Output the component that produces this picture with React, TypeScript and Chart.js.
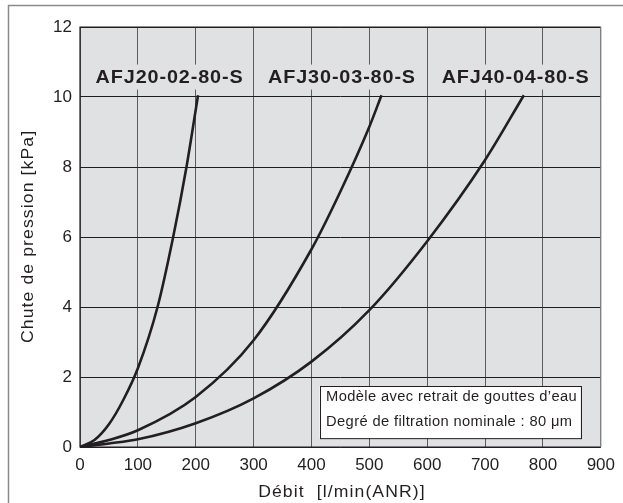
import { useEffect, useRef } from "react";
import { Chart, registerables } from "chart.js";

Chart.register(...registerables);

// ---- data ----
const flowAFJ20 = [0, 25, 50, 75, 100, 134, 161, 184, 204];
const dropAFJ20 = [0, 0.2, 0.65, 1.35, 2.25, 4.0, 6.0, 8.0, 10.05];
const flowAFJ30 = [0, 50, 100, 200, 300, 400, 450, 500, 521];
const dropAFJ30 = [0, 0.2, 0.48, 1.43, 3.05, 5.65, 7.3, 9.15, 10.05];
const flowAFJ40 = [0, 50, 100, 200, 300, 400, 500, 600, 700, 767];
const dropAFJ40 = [0, 0.1, 0.22, 0.68, 1.39, 2.44, 3.91, 5.88, 8.2, 10.05];

const seriesNames = ["AFJ20-02-80-S", "AFJ30-03-80-S", "AFJ40-04-80-S"];
const labelFlows = [154, 452, 752];
const labelDrop = 10.57;

const xMin = 0, xMax = 900, xStep = 100;
const yMin = 0, yMax = 12, yStep = 2;

const xTitle = "Débit  [l/min(ANR)]";
const yTitle = "Chute de pression [kPa]";
const noteLines = [
  "Modèle avec retrait de gouttes d’eau",
  "Degré de filtration nominale : 80 μm",
];

const FONT = "'Liberation Sans', Arial, Helvetica, sans-serif";
const INK = "#231f20";
const PLOT_BG = "#e0e1e3";

function toPoints(xs: number[], ys: number[]) {
  return xs.map((x, i) => ({ x, y: ys[i] }));
}

// draws text widened horizontally to mimic the reference's wide type
function wideText(
  ctx: CanvasRenderingContext2D,
  text: string,
  x: number,
  y: number,
  sx: number,
  spacing: number,
  align: "left" | "center"
) {
  ctx.save();
  (ctx as any).letterSpacing = `${spacing}px`;
  ctx.textAlign = "left";
  ctx.textBaseline = "middle";
  const w = (ctx.measureText(text).width - spacing) * sx;
  const startX = align === "center" ? x - w / 2 : x;
  ctx.translate(startX, y);
  ctx.scale(sx, 1);
  ctx.fillText(text, 0, 0);
  ctx.restore();
  return w;
}

const decorPlugin = {
  id: "decor",
  beforeDraw(chart: any) {
    const { ctx, chartArea } = chart;
    const { left, top, right, bottom } = chartArea;
    ctx.save();
    ctx.fillStyle = "#ffffff";
    ctx.fillRect(0, 0, chart.width, chart.height);
    ctx.strokeStyle = "#8a8a8a";
    ctx.lineWidth = 1.5;
    ctx.strokeRect(8.5, 5.5, chart.width + 20, chart.height + 20);
    ctx.fillStyle = PLOT_BG;
    ctx.fillRect(left, top, right - left, bottom - top);
    ctx.restore();
  },
  beforeDatasetsDraw(chart: any) {
    const { ctx, scales } = chart;
    ctx.save();
    ctx.font = `bold 18px ${FONT}`;
    seriesNames.forEach((name, i) => {
      const cx = scales.x.getPixelForValue(labelFlows[i]);
      const cy = scales.y.getPixelForValue(labelDrop);
      (ctx as any).letterSpacing = "0.8px";
      const w = (ctx.measureText(name).width - 0.8) * 1.1 + 6;
      ctx.fillStyle = PLOT_BG;
      ctx.fillRect(cx - w / 2, cy - 12.5, w, 25);
      ctx.fillStyle = INK;
      wideText(ctx, name, cx, cy + 1, 1.1, 0.8, "center");
    });
    ctx.restore();
  },
  afterDatasetsDraw(chart: any) {
    const { ctx, chartArea, scales } = chart;
    const { left, top, right, bottom } = chartArea;
    ctx.save();
    ctx.lineWidth = 1.2;
    ctx.strokeStyle = INK;
    ctx.beginPath();
    ctx.moveTo(right, top);
    ctx.lineTo(left, top);
    ctx.lineTo(left, bottom);
    ctx.lineTo(right, bottom);
    ctx.stroke();
    ctx.strokeStyle = "#8a8a8a";
    ctx.beginPath();
    ctx.moveTo(right, top);
    ctx.lineTo(right, bottom);
    ctx.stroke();

    // note box
    const bx0 = scales.x.getPixelForValue(414);
    const bx1 = scales.x.getPixelForValue(865);
    const by0 = scales.y.getPixelForValue(1.74);
    const by1 = scales.y.getPixelForValue(0.25);
    ctx.fillStyle = "#ffffff";
    ctx.fillRect(bx0, by0, bx1 - bx0, by1 - by0);
    ctx.strokeStyle = INK;
    ctx.lineWidth = 1;
    ctx.strokeRect(Math.round(bx0) + 0.5, Math.round(by0) + 0.5, bx1 - bx0, by1 - by0);
    ctx.font = `14px ${FONT}`;
    ctx.fillStyle = INK;
    wideText(ctx, noteLines[0], bx0 + 6.5, by0 + 11.5, 1.05, 0.35, "left");
    wideText(ctx, noteLines[1], bx0 + 6.5, by0 + 36, 1.05, 0.35, "left");
    ctx.restore();
  },
  afterDraw(chart: any) {
    const { ctx, chartArea } = chart;
    const { left, top, right, bottom } = chartArea;
    ctx.save();
    ctx.font = `16px ${FONT}`;
    ctx.fillStyle = INK;
    wideText(ctx, xTitle, (left + right) / 2 + 1, 493, 1.1, 1.0, "center");
    ctx.translate(29, (top + bottom) / 2);
    ctx.rotate(-Math.PI / 2);
    wideText(ctx, yTitle, 0, 0, 1.1, 1.0, "center");
    ctx.restore();
  },
};

export default function App() {
  const canvasRef = useRef<HTMLCanvasElement | null>(null);

  useEffect(() => {
    if (!canvasRef.current) return;
    const lineStyle = {
      borderColor: INK,
      borderWidth: 2.6,
      pointRadius: 0,
      fill: false,
      cubicInterpolationMode: "monotone" as const,
    };
    const chart = new Chart(canvasRef.current, {
      type: "line",
      data: {
        datasets: [
          { label: seriesNames[0], data: toPoints(flowAFJ20, dropAFJ20), ...lineStyle },
          { label: seriesNames[1], data: toPoints(flowAFJ30, dropAFJ30), ...lineStyle },
          { label: seriesNames[2], data: toPoints(flowAFJ40, dropAFJ40), ...lineStyle },
        ],
      },
      options: {
        responsive: false,
        animation: false,
        layout: { padding: { top: 27, right: 16, bottom: 0, left: 0 } },
        plugins: {
          legend: { display: false },
          tooltip: { enabled: false },
        },
        scales: {
          x: {
            type: "linear",
            min: xMin,
            max: xMax,
            ticks: {
              stepSize: xStep,
              color: INK,
              font: { family: FONT, size: 17 },
              padding: 8,
              maxRotation: 0,
            },
            grid: { color: "#5c5c5c", lineWidth: 1, drawTicks: false },
            border: { display: false },
            afterFit(scale: any) {
              scale.height = 56;
            },
          },
          y: {
            type: "linear",
            min: yMin,
            max: yMax,
            ticks: {
              stepSize: yStep,
              color: INK,
              font: { family: FONT, size: 17 },
              padding: 8,
            },
            grid: { color: "#1e1e1e", lineWidth: 1, drawTicks: false },
            border: { display: false },
            afterFit(scale: any) {
              scale.width = 80;
            },
          },
        },
      },
      plugins: [decorPlugin],
    });
    return () => chart.destroy();
  }, []);

  return (
    <div style={{ position: "fixed", left: 0, top: 0, width: 623, height: 503 }}>
      <canvas ref={canvasRef} width={623} height={503} style={{ display: "block" }} />
    </div>
  );
}
